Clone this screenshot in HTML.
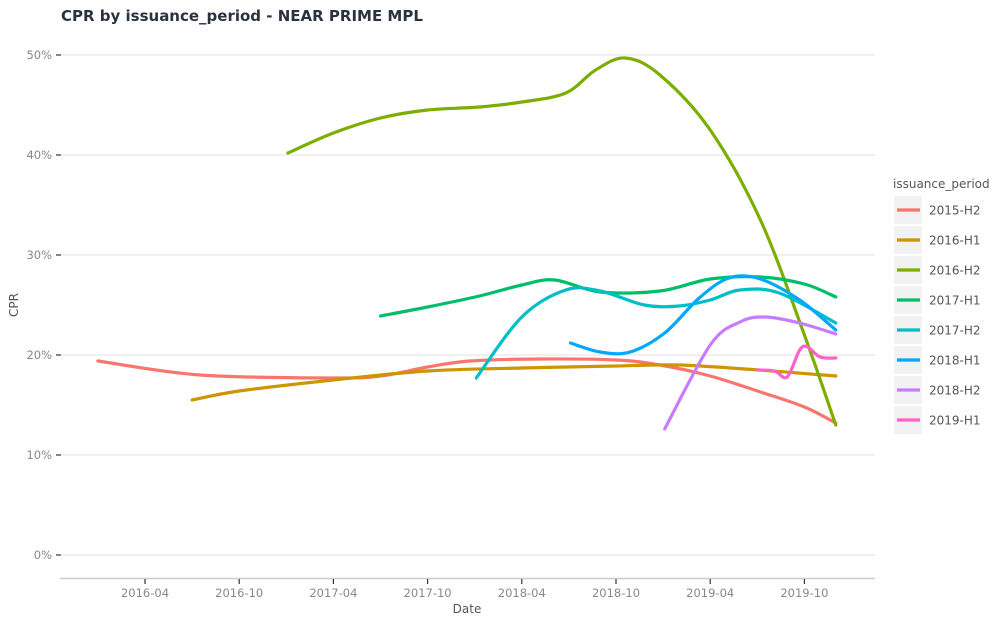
<!DOCTYPE html>
<html><head><meta charset="utf-8"><style>
body{margin:0;background:#fff;font-family:"Liberation Sans","DejaVu Sans",sans-serif;}
</style></head><body>
<svg id="chart" width="1000" height="625" xmlns="http://www.w3.org/2000/svg" font-family="DejaVu Sans, Liberation Sans, sans-serif">
<text x="61" y="21" font-size="15" font-weight="bold" fill="#2a3240">CPR by issuance_period - NEAR PRIME MPL</text>
<g id="grid"></g><g id="axes"></g><g id="lines"></g><g id="legend"></g>
<text x="467" y="613" font-size="12" fill="#555" text-anchor="middle">Date</text>
<text transform="translate(18,305) rotate(-90)" font-size="12" fill="#555" text-anchor="middle">CPR</text>
</svg>
<script>
// months since 2016-01
const xTickLabels=["2016-04","2016-10","2017-04","2017-10","2018-04","2018-10","2019-04","2019-10"];
const xTickMonths=[3,9,15,21,27,33,39,45];
const yTicks=[0,10,20,30,40,50];
const seriesNames=["2015-H2","2016-H1","2016-H2","2017-H1","2017-H2","2018-H1","2018-H2","2019-H1"];
const colors=["#F8766D","#CD9600","#7CAE00","#00BE67","#00BFC4","#00A9FF","#C77CFF","#FF61CC"];
const s2015H2=[[0,19.4],[6.5,18.0],[15,17.7],[18,17.9],[21,18.8],[23.7,19.4],[28.2,19.6],[33,19.5],[35.8,19.0],[39,17.9],[42.2,16.3],[45,14.8],[47,13.2]];
const s2016H1=[[6,15.5],[9,16.4],[15,17.5],[21,18.4],[27,18.7],[33,18.9],[37,19.0],[42.1,18.5],[47,17.9]];
const s2016H2=[[12.1,40.2],[15,42.2],[18,43.7],[21,44.5],[24.3,44.8],[27,45.3],[29.8,46.2],[31.7,48.5],[33.6,49.7],[35.8,48],[39,42.5],[42.2,33.5],[45,22],[47,13]];
const s2017H1=[[18,23.9],[21,24.8],[24.3,25.9],[27,27],[29.1,27.5],[32,26.3],[35.8,26.4],[39,27.6],[42.2,27.8],[45,27.1],[47,25.8]];
const s2017H2=[[24.1,17.7],[27,23.8],[29.8,26.5],[32,26.4],[34.8,25],[37,24.9],[39,25.5],[40.9,26.5],[43.4,26.2],[47,23.2]];
const s2018H1=[[30.1,21.2],[32,20.3],[33.9,20.3],[36.1,22.2],[38.3,25.7],[40.2,27.7],[42.2,27.6],[44.7,25.5],[47,22.5]];
const s2018H2=[[36.1,12.6],[39,21],[40.9,23.3],[42.5,23.8],[44.7,23.2],[47,22.1]];
const s2019H1=[[42,18.5],[43.1,18.4],[43.9,17.8],[44.7,20.5],[45.2,20.8],[46,19.8],[47,19.7]];
const allSeries=[s2015H2,s2016H1,s2016H2,s2017H1,s2017H2,s2018H1,s2018H2,s2019H1];

const NS="http://www.w3.org/2000/svg";
const X=m=>145+(m-3)*15.7;
const Y=v=>555-v*10;
function mk(tag,attrs,parent){const e=document.createElementNS(NS,tag);for(const k in attrs)e.setAttribute(k,attrs[k]);parent.appendChild(e);return e;}
const grid=document.getElementById('grid'),axes=document.getElementById('axes'),lines=document.getElementById('lines'),legend=document.getElementById('legend');
yTicks.forEach(v=>{
  const g=mk('line',{x1:60,x2:875,y1:Y(v),y2:Y(v),stroke:'#e6e6e6','stroke-width':1.2},grid);
  
  
  const t=mk('line',{x1:56,x2:61,y1:Y(v),y2:Y(v),stroke:'#333','stroke-width':1.2},axes);
  
  
  const l=mk('text',{x:52,y:Y(v)+4,'font-size':11.5,fill:'#888','text-anchor':'end'},axes);
  l.textContent=v+'%';
  
  
});
const ax=mk('line',{x1:60,x2:875,y1:578.5,y2:578.5,stroke:'#ccc','stroke-width':1.5},axes);


xTickMonths.forEach((m,i)=>{
  const t=mk('line',{x1:X(m),x2:X(m),y1:579,y2:584,stroke:'#333','stroke-width':1.2},axes);
  
  
  const l=mk('text',{x:X(m),y:597,'font-size':11.5,fill:'#888','text-anchor':'middle'},axes);
  l.textContent=xTickLabels[i];
  
  
});
function pathFor(pts){
  const p=pts.map(d=>[X(d[0]),Y(d[1])]);
  let s='M'+p[0][0]+','+p[0][1];
  for(let i=0;i<p.length-1;i++){
    const p0=p[i-1]||p[i],p1=p[i],p2=p[i+1],p3=p[i+2]||p2;
    const c1=[p1[0]+(p2[0]-p0[0])/6,p1[1]+(p2[1]-p0[1])/6];
    const c2=[p2[0]-(p3[0]-p1[0])/6,p2[1]-(p3[1]-p1[1])/6];
    s+=' C'+c1+' '+c2+' '+p2;
  }
  return s;
}
allSeries.forEach((pts,i)=>{
  const path=mk('path',{d:pathFor(pts),fill:'none',stroke:colors[i],'stroke-width':3.2,'stroke-linecap':'round'},lines);
  
  
});
const lt=mk('text',{x:893,y:188,'font-size':12,fill:'#555'},legend);
lt.textContent='issuance_period';


seriesNames.forEach((n,i)=>{
  const cy=210+i*30;
  const g=mk('g',{},legend);
  
  
  mk('rect',{x:894,y:cy-14,width:28,height:28,fill:'#f2f2f2'},g);
  mk('line',{x1:897,x2:920,y1:cy,y2:cy,stroke:colors[i],'stroke-width':3.2},g);
  const t=mk('text',{x:929,y:cy+4.5,'font-size':12,fill:'#555'},g);
  t.textContent=n;
});
</script>
</body></html>
